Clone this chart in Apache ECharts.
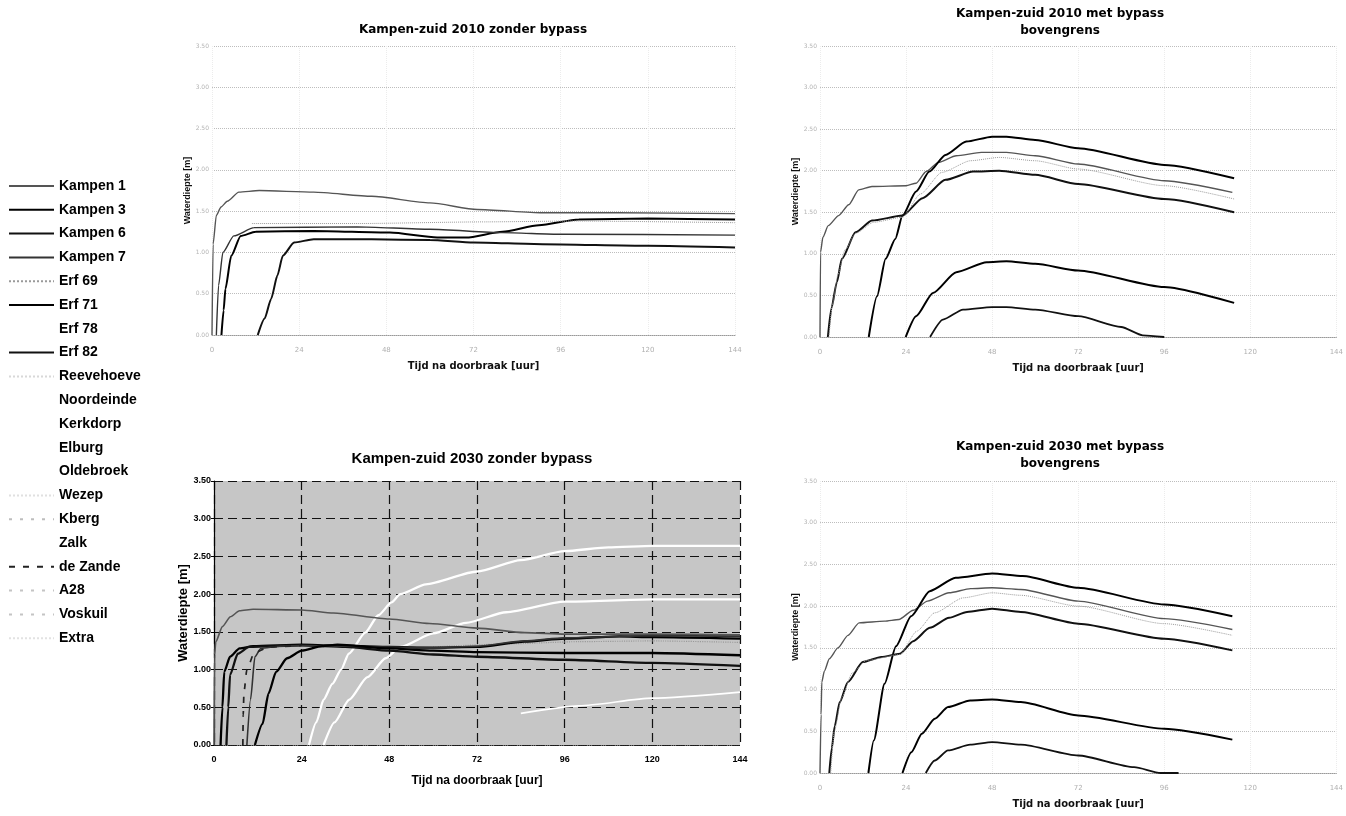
<!DOCTYPE html>
<html><head><meta charset="utf-8">
<script src="https://cdn.jsdelivr.net/npm/echarts@6/dist/echarts.min.js"></script>
<style>html,body{margin:0;padding:0;background:#fff}#c{width:1346px;height:816px}</style>
</head><body><div id="c"></div>
<script>
// ---------- categories / ticks ----------
const seriesNames = ['Kampen 1','Kampen 3','Kampen 6','Kampen 7','Erf 69','Erf 71','Erf 78','Erf 82',
  'Reevehoeve','Noordeinde','Kerkdorp','Elburg','Oldebroek','Wezep','Kberg','Zalk','de Zande','A28','Voskuil','Extra'];
const xTicks = [0, 24, 48, 72, 96, 120, 144];
const yTicks = [0, 0.5, 1.0, 1.5, 2.0, 2.5, 3.0, 3.5];
const panelTitles = ['Kampen-zuid 2010 zonder bypass', 'Kampen-zuid 2010 met bypass\nbovengrens',
  'Kampen-zuid 2030 zonder bypass', 'Kampen-zuid 2030 met bypass\nbovengrens'];

// ---------- Kampen-zuid 2010 zonder bypass [hour, depth] ----------
const tl_kampen1 = [[0,0],[0.3,1.1],[1.2,1.45],[2.5,1.55],[4.2,1.62],[7.4,1.73],[13,1.75],[28,1.73],[44,1.68],[60,1.6],[73,1.52],[91,1.48],[112,1.48],[144,1.47]];
const tl_kampen3 = [[2.6,0],[3.2,0.3],[3.7,0.56],[5.3,0.96],[7.9,1.2],[12,1.25],[28,1.26],[49,1.24],[62,1.18],[70,1.18],[80,1.25],[90,1.33],[101,1.4],[120,1.41],[144,1.4]];
const tl_kampen6 = [[12.6,0],[14.5,0.2],[16.3,0.44],[18,0.72],[19.5,0.96],[22.6,1.12],[28,1.16],[44,1.16],[60,1.15],[72,1.12],[91,1.1],[120,1.08],[144,1.06]];
const tl_kampen7 = [[1.2,0],[1.8,0.6],[3,1.0],[6,1.2],[11.6,1.3],[40,1.31],[60,1.28],[80,1.24],[96,1.22],[144,1.21]];
const tl_erf69 = [[11,1.35],[40,1.35],[75,1.37],[100,1.38],[144,1.36]];

// ---------- Kampen-zuid 2010 met bypass bovengrens ----------
const tr_kampen1 = [[0,0],[0.15,1.02],[0.8,1.2],[2.3,1.34],[5.2,1.46],[8,1.59],[10.8,1.77],[14.5,1.81],[24,1.82],[26.8,1.85],[29.6,1.99],[33,2.1],[38,2.18],[45,2.22],[52,2.22],[60,2.18],[72,2.08],[96,1.88],[115,1.74]];
const tr_kampen3 = [[13.6,0],[15.9,0.49],[18.3,0.94],[21,1.18],[23,1.46],[26.8,1.75],[30.5,1.99],[35,2.19],[40.8,2.35],[48,2.41],[52,2.41],[60,2.37],[72,2.27],[96,2.07],[115.5,1.91]];
const tr_kampen6 = [[2.2,0],[3.2,0.35],[4.7,0.66],[6.1,0.94],[9.9,1.26],[14.5,1.4],[23,1.46],[28.6,1.67],[35,1.89],[42.7,1.99],[50,2.0],[60,1.95],[72,1.84],[96,1.66],[115.5,1.5]];
const tr_erf69 = [[2.5,0],[3.5,0.4],[5,0.75],[7,1.05],[10,1.25],[15,1.38],[23,1.44],[28,1.72],[34,1.98],[42,2.12],[50,2.16],[60,2.12],[72,2.02],[96,1.82],[115.5,1.66]];
const tr_erf71 = [[23.9,0],[26.8,0.25],[31.5,0.53],[38,0.78],[46.5,0.9],[52,0.91],[60,0.88],[72,0.8],[96,0.6],[115.5,0.41]];
const tr_erf82 = [[30.7,0],[34.3,0.21],[39.9,0.33],[48,0.36],[52,0.36],[60,0.33],[72,0.25],[84,0.12],[90,0.02],[96,0]];

// ---------- Kampen-zuid 2030 zonder bypass ----------
const bl_kampen1 = [[0,0],[0.15,1.2],[0.5,1.37],[2.3,1.57],[4.5,1.7],[7,1.78],[10.7,1.8],[24,1.79],[32.7,1.75],[48,1.67],[59,1.61],[72,1.55],[85,1.49],[96,1.47],[120,1.47],[144,1.46]];
const bl_kampen3 = [[1.8,0],[2.3,0.5],[2.8,0.97],[4.4,1.17],[7,1.28],[10.7,1.31],[24,1.33],[32.7,1.32],[48,1.3],[59,1.29],[72,1.3],[85,1.37],[96,1.41],[111,1.44],[120,1.43],[144,1.41]];
const bl_kampen6 = [[3.4,0],[3.9,0.5],[4.4,0.93],[6.5,1.21],[9.6,1.3],[24,1.32],[36,1.3],[48,1.25],[60,1.2],[72,1.17],[96,1.13],[120,1.09],[144,1.05]];
const bl_kampen7 = [[9,0],[10,0.6],[11.2,1.17],[12.8,1.28],[18,1.31],[24,1.32],[48,1.3],[60,1.29],[72,1.31],[85,1.38],[96,1.42],[120,1.45],[144,1.44]];
const bl_erf69 = [[60,1.3],[80,1.34],[100,1.37],[120,1.38],[144,1.36]];
const bl_erf71 = [[11.2,0],[13.3,0.28],[14.9,0.68],[17,0.97],[20,1.15],[24,1.25],[29.6,1.31],[33.8,1.33],[48,1.28],[60,1.25],[72,1.23],[96,1.22],[120,1.22],[144,1.19]];
const bl_deZande = [[7.9,0],[8,0.4],[8.2,0.7],[9,1.0],[11,1.22],[15,1.3],[24,1.32]];
const bl_erf78 = [[26,0],[28,0.3],[30,0.6],[32.4,0.81],[34.8,1.0],[36.9,1.21],[41.4,1.49],[45,1.72],[48.6,1.89],[51,2.0],[58,2.13],[72,2.3],[84,2.45],[96,2.57],[108,2.62],[120,2.64],[144,2.64]];
const bl_noordeinde = [[30,0],[33,0.3],[37,0.6],[42,0.9],[47,1.15],[51,1.3],[60,1.48],[69,1.62],[80,1.76],[96,1.9],[120,1.93],[144,1.93]];
const bl_kerkdorp = [[84,0.42],[100,0.52],[120,0.62],[144,0.7]];

// ---------- Kampen-zuid 2030 met bypass bovengrens ----------
const br_kampen1 = [[0,0],[0.3,0.7],[0.5,1.09],[1.2,1.22],[2.6,1.37],[5,1.5],[7.8,1.65],[10.9,1.8],[18,1.82],[22,1.84],[26,1.95],[30,2.06],[36,2.16],[42,2.21],[48,2.22],[56,2.2],[72,2.06],[96,1.85],[115,1.72]];
const br_kampen3 = [[13.5,0],[15,0.39],[18,1.07],[21.2,1.52],[25.4,1.88],[30.6,2.18],[37.8,2.34],[48,2.39],[56.5,2.36],[72,2.22],[96,2.02],[115,1.88]];
const br_kampen6 = [[2.6,0],[3.3,0.3],[4.1,0.56],[5.5,0.85],[7.8,1.09],[11.9,1.33],[17.1,1.39],[22.3,1.43],[26,1.58],[30.6,1.74],[36,1.86],[41,1.93],[48,1.97],[56,1.93],[72,1.79],[96,1.61],[115,1.47]];
const br_erf69 = [[3,0],[4,0.5],[6,0.9],[9,1.2],[13,1.35],[22.3,1.42],[27,1.7],[32,1.92],[40,2.1],[48,2.16],[56,2.13],[72,2.0],[96,1.79],[115,1.65]];
const br_erf71 = [[23,0],[25.5,0.25],[28.4,0.47],[32,0.65],[35.7,0.79],[41.9,0.87],[48,0.88],[56,0.85],[72,0.69],[96,0.53],[115,0.4]];
const br_erf82 = [[29.5,0],[32,0.15],[35.7,0.27],[41.9,0.34],[48,0.37],[56,0.34],[72,0.21],[87.6,0.07],[95,0],[100,0]];

// ---------- assembly ----------
const panelData = [
  {'Kampen 1': tl_kampen1, 'Kampen 3': tl_kampen3, 'Kampen 6': tl_kampen6, 'Kampen 7': tl_kampen7, 'Erf 69': tl_erf69},
  {'Kampen 1': tr_kampen1, 'Kampen 3': tr_kampen3, 'Kampen 6': tr_kampen6, 'Erf 69': tr_erf69, 'Erf 71': tr_erf71, 'Erf 82': tr_erf82},
  {'Erf 78': bl_erf78, 'Noordeinde': bl_noordeinde, 'Kerkdorp': bl_kerkdorp, 'Erf 69': bl_erf69,
   'Kampen 1': bl_kampen1, 'Kampen 3': bl_kampen3, 'Kampen 6': bl_kampen6, 'Kampen 7': bl_kampen7, 'Erf 71': bl_erf71, 'de Zande': bl_deZande},
  {'Kampen 1': br_kampen1, 'Kampen 3': br_kampen3, 'Kampen 6': br_kampen6, 'Erf 69': br_erf69, 'Erf 71': br_erf71, 'Erf 82': br_erf82}
];

const styles = {
  'Kampen 1': {color:'#555', width:1.4, type:'solid'},
  'Kampen 3': {color:'#000', width:2, type:'solid'},
  'Kampen 6': {color:'#111', width:2, type:'solid'},
  'Kampen 7': {color:'#333', width:1.4, type:'solid'},
  'Erf 69': {color:'#9a9a9a', width:1, type:'dotted'},
  'Erf 71': {color:'#000', width:2, type:'solid'},
  'Erf 78': {color:'#fff', width:2, type:'solid'},
  'Erf 82': {color:'#111', width:1.8, type:'solid'},
  'Reevehoeve': {color:'#d8d8d8', width:1, type:'dotted'},
  'Noordeinde': {color:'#fff', width:2, type:'solid'},
  'Kerkdorp': {color:'#fff', width:1.5, type:'solid'},
  'Elburg': {color:'#fff', width:1, type:'solid'},
  'Oldebroek': {color:'#fff', width:1, type:'solid'},
  'Wezep': {color:'#e0e0e0', width:1, type:'dotted'},
  'Kberg': {color:'#bdbdbd', width:1, type:[3,8]},
  'Zalk': {color:'#fff', width:1, type:'solid'},
  'de Zande': {color:'#222', width:1.5, type:[6,8]},
  'A28': {color:'#c4c4c4', width:1, type:[3,8]},
  'Voskuil': {color:'#c4c4c4', width:1, type:[3,8]},
  'Extra': {color:'#e2e2e2', width:1, type:'dotted'}
};

const grids = [
  {left:212, top:46, width:523, height:289},
  {left:820, top:46, width:520, height:291},
  {left:214, top:481, width:526, height:264, show:true, backgroundColor:'#c6c6c6', borderWidth:0},
  {left:820, top:481, width:520, height:292}
];

const faintFont = 'DejaVu Sans';
function xAxisFor(i){
  const bold = i === 2;
  return {
    type:'value', gridIndex:i, min:xTicks[0], max:xTicks[xTicks.length-1], interval:24,
    name:'Tijd na doorbraak [uur]', nameLocation:'middle', nameGap: bold ? 30 : 26,
    nameTextStyle: bold ? {fontFamily:'Liberation Sans', fontWeight:'bold', fontSize:12, color:'#000'}
                        : {fontFamily:faintFont, fontWeight:'bold', fontSize:10, color:'#111'},
    axisLine:{show:true, lineStyle: bold ? {color:'#222', width:1, type:'dotted'} : {color:'#999', type:'dotted'}},
    axisTick:{show:false},
    axisLabel: bold ? {fontFamily:'Liberation Sans Narrow, Liberation Sans', fontWeight:'bold', fontSize:9, color:'#000', margin:10}
                    : {fontFamily:faintFont, fontSize:7, color:'#b0b0b0', margin:12},
    splitLine: bold ? {show:true, lineStyle:{color:'#111', width:1.2, type:[9,5]}}
                    : {show:true, lineStyle:{color:'#ececec', width:1, type:'dotted'}}
  };
}
function yAxisFor(i){
  const bold = i === 2;
  return {
    type:'value', gridIndex:i, min:yTicks[0], max:yTicks[yTicks.length-1], interval:0.5,
    name:'Waterdiepte [m]', nameLocation:'middle', nameGap: bold ? 22 : 12,
    nameTextStyle: bold ? {fontFamily:'Liberation Sans', fontWeight:'bold', fontSize:13, color:'#000'}
                        : {fontFamily:'Liberation Sans', fontWeight:'bold', fontSize:9, color:'#111'},
    axisLine:{show:bold, lineStyle:{color:'#000', width:1.2}},
    axisTick:{show:bold, length:3, lineStyle:{color:'#000'}},
    axisLabel: bold ? {fontFamily:'Liberation Sans Narrow, Liberation Sans', fontWeight:'bold', fontSize:9, color:'#000', margin:3,
                       formatter:v => v.toFixed(2)}
                    : {fontFamily:faintFont, fontSize:6, color:'#b4b4b4', margin:3, formatter:v => v.toFixed(2)},
    splitLine: bold ? {show:true, lineStyle:{color:'#111', width:1.2, type:[9,5]}}
                    : {show:true, lineStyle:{color:'#bdbdbd', width:1, type:'dotted'}}
  };
}

const series = [];
const used = new Set();
panelData.forEach((pd, i) => {
  Object.keys(pd).forEach(name => {
    const st = styles[name];
    used.add(name);
    series.push({
      type:'line', name, xAxisIndex:i, yAxisIndex:i, data:pd[name],
      showSymbol:false, symbol:'none', smooth:0.22, smoothMonotone:'x', silent:true,
      lineStyle:{color:st.color, width: i === 2 ? st.width * 1.15 : st.width, type:st.type},
      itemStyle:{color:st.color}, z: st.color === '#fff' ? 2 : 3
    });
  });
});
seriesNames.forEach(name => {
  if (!used.has(name)) {
    const st = styles[name];
    series.push({type:'line', name, xAxisIndex:0, yAxisIndex:0, data:[], symbol:'none', showSymbol:false,
      lineStyle:{color:st.color, width:st.width, type:st.type}, itemStyle:{color:st.color}});
  }
});

const titleCenters = [[468, 16], [1055, 0], [467, 446], [1055, 433]];
const titles = panelTitles.map((t, i) => ({
  text: t, left: titleCenters[i][0], top: titleCenters[i][1], textAlign:'center',
  textStyle: i === 2 ? {fontFamily:'Liberation Sans', fontWeight:'bold', fontSize:15, color:'#000'}
                     : {fontFamily:'DejaVu Sans', fontWeight:'bold', fontSize:12, color:'#000', lineHeight:17}
}));

const chart = echarts.init(document.getElementById('c'), null, {renderer:'canvas'});
chart.setOption({
  animation:false,
  backgroundColor:'#fff',
  title: titles,
  legend: {
    data: seriesNames, orient:'vertical', left:8, top:179, padding:0, itemWidth:45, itemHeight:13, itemGap:9.8,
    selectedMode:false, itemStyle:{opacity:0},
    textStyle:{fontFamily:'Liberation Sans', fontSize:14, fontWeight:'bold', color:'#000'}
  },
  grid: grids,
  xAxis: grids.map((g, i) => xAxisFor(i)),
  yAxis: grids.map((g, i) => yAxisFor(i)),
  series
});
</script></body></html>
